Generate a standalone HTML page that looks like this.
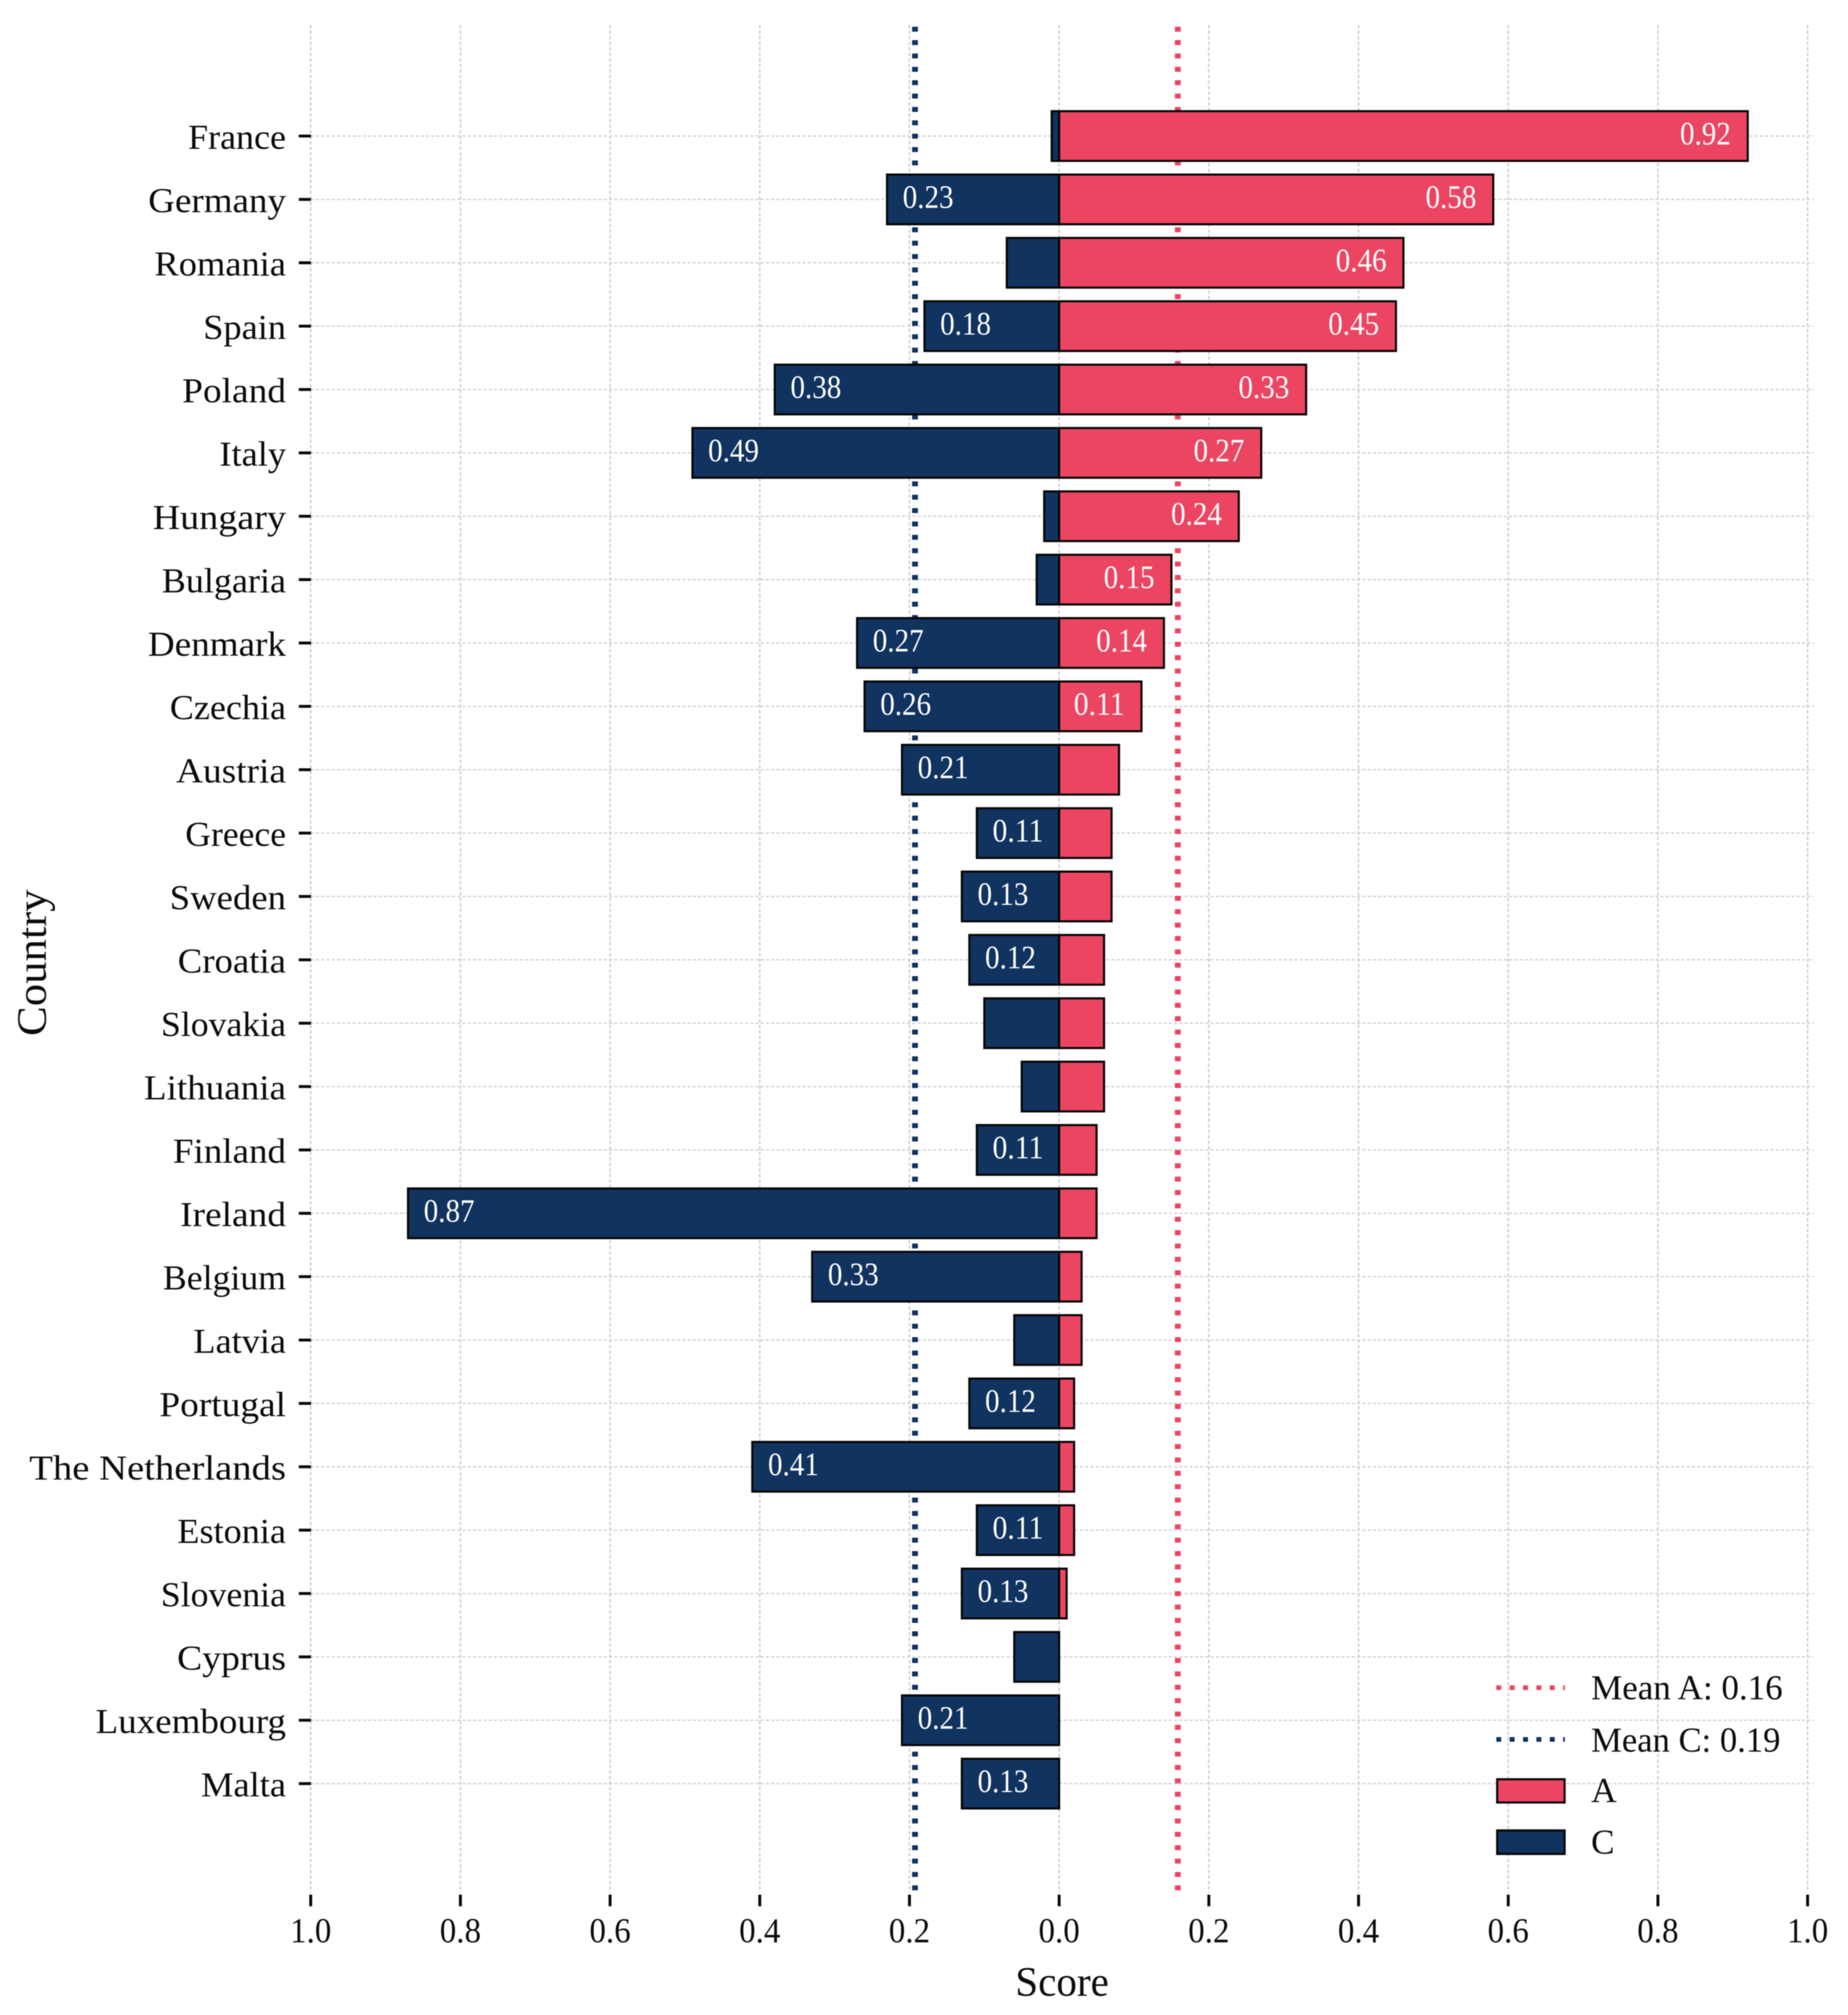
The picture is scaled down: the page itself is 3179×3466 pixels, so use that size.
<!DOCTYPE html>
<html lang="en">
<head>
<meta charset="utf-8">
<title>Country scores A and C</title>
<style>
html,body{margin:0;padding:0;background:#fff;}
#chart{display:block;width:3179px;height:3466px;filter:blur(0.7px);}
text{font-family:"Liberation Serif",serif;fill:#0c0c0c;}
</style>
</head>
<body>
<svg id="chart" xmlns="http://www.w3.org/2000/svg" width="3179" height="3466" viewBox="0 0 3179 3466"></svg>
<script>
const countries = ["France","Germany","Romania","Spain","Poland","Italy","Hungary","Bulgaria","Denmark","Czechia","Austria","Greece","Sweden","Croatia","Slovakia","Lithuania","Finland","Ireland","Belgium","Latvia","Portugal","The Netherlands","Estonia","Slovenia","Cyprus","Luxembourg","Malta"];
const seriesA = [0.92,0.58,0.46,0.45,0.33,0.27,0.24,0.15,0.14,0.11,0.08,0.07,0.07,0.06,0.06,0.06,0.05,0.05,0.03,0.03,0.02,0.02,0.02,0.01,0,0,0];
const seriesC = [0.01,0.23,0.07,0.18,0.38,0.49,0.02,0.03,0.27,0.26,0.21,0.11,0.13,0.12,0.10,0.05,0.11,0.87,0.33,0.06,0.12,0.41,0.11,0.13,0.06,0.21,0.13];
const xTickValues = [-1,-0.8,-0.6,-0.4,-0.2,0,0.2,0.4,0.6,0.8,1];
const xTickLabels = ["1.0","0.8","0.6","0.4","0.2","0.0","0.2","0.4","0.6","0.8","1.0"];
const labelThreshold = 0.1;

const COLOR_A = "#EB4562";
const COLOR_C = "#11335F";
const svg = document.getElementById("chart");
const NS = "http://www.w3.org/2000/svg";

/* axis functions */
function xScale(v){ return 1822 + v * 1287.5; }
function yScale(i){ return 234 + i * 109; }

/* Approximate the proportions of the reference's book typeface */
const ADV = {a:.5,b:.553,c:.444,d:.611,e:.479,f:.333,g:.556,h:.582,i:.291,j:.234,k:.556,l:.291,m:.883,n:.582,o:.546,p:.601,q:.56,r:.395,s:.424,t:.326,u:.603,v:.565,w:.834,x:.516,y:.556,z:.5,
A:.778,B:.611,C:.709,D:.774,E:.611,F:.556,G:.763,H:.832,I:.337,L:.611,M:.946,N:.831,P:.604,R:.668,S:.525,T:.613," ":.25,".":.25,":":.25};
function textWidth(str, size){
  let w = 0;
  for (const ch of str) w += (ch in ADV ? ADV[ch] : .5);
  return w * size;
}
function make(tag, attrs, parent){
  const el = document.createElementNS(NS, tag);
  for (const k in attrs) el.setAttribute(k, attrs[k]);
  (parent || svg).appendChild(el);
  return el;
}
function makeText(str, x, y, size, width, anchor, parent, fill){
  const el = make("text", {x:x, y:y, "font-size":size, "text-anchor":anchor, textLength:width.toFixed(1), lengthAdjust:"spacingAndGlyphs"}, parent);
  if (fill) el.setAttribute("style", "fill:" + fill);
  el.textContent = str;
  return el;
}
function group(name){
  const g = make("g", {});
  
  
  return g;
}

/* gridlines */
const gridG = group('gridlines');
xTickValues.forEach(function(v){
  const el = make("line", {x1:xScale(v), x2:xScale(v), y1:43, y2:3256, stroke:"#c8c8c8", "stroke-width":2.3, "stroke-dasharray":"6 3.5"}, gridG);
  
  
});
countries.forEach(function(c, i){
  const el = make("line", {x1:534.5, x2:3120, y1:yScale(i), y2:yScale(i), stroke:"#d0d0d0", "stroke-width":2.3, "stroke-dasharray":"5.5 3.5"}, gridG);
  
  
});

/* mean lines, behind the bars */
function mean(arr){ return arr.reduce(function(a,b){return a+b;},0) / arr.length; }
const meanA = mean(seriesA);
const meanC = mean(seriesC);
const meanALine = make("line", {x1:xScale(meanA), x2:xScale(meanA), y1:46, y2:3258, stroke:COLOR_A, "stroke-width":10, "stroke-dasharray":"8.5 14.5"});


const meanCLine = make("line", {x1:xScale(-meanC), x2:xScale(-meanC), y1:46, y2:3258, stroke:COLOR_C, "stroke-width":10, "stroke-dasharray":"8.5 14.5"});



/* bars */
const barsG = group('bars');
const BAR_H = 85.5;
countries.forEach(function(c, i){
  const x0 = xScale(0);
  const xc = xScale(-seriesC[i]);
  const barC = make("rect", {x:xc, y:yScale(i)-BAR_H/2, width:x0-xc, height:BAR_H, fill:COLOR_C, stroke:"#050505", "stroke-width":3.6}, barsG);
  
  
});
countries.forEach(function(c, i){
  const x0 = xScale(0);
  const xa = xScale(seriesA[i]);
  const barA = make("rect", {x:x0, y:yScale(i)-BAR_H/2, width:xa-x0, height:BAR_H, fill:COLOR_A, stroke:"#050505", "stroke-width":3.6}, barsG);
  
  
});

/* value labels */
const valuesG = group('value-labels');
countries.forEach(function(c, i){
  if (seriesA[i] > labelThreshold) {
    const s = seriesA[i].toFixed(2);
    const la = makeText(s, xScale(seriesA[i]) - 29, yScale(i) + 14.5, 56, textWidth(s, 50), "end", valuesG, "#ffffff");
    
    
  }
  if (seriesC[i] > labelThreshold) {
    const s = seriesC[i].toFixed(2);
    const lc = makeText(s, xScale(-seriesC[i]) + 27, yScale(i) + 14.5, 56, textWidth(s, 50), "start", valuesG, "#ffffff");
    
    
  }
});

/* y axis */
const yAxisG = group('y-axis');
countries.forEach(function(c, i){
  const tick = make("line", {x1:514, x2:535, y1:yScale(i), y2:yScale(i), stroke:"#0a0a0a", "stroke-width":5}, yAxisG);
  
  
  const size = c === "The Netherlands" ? 59.5 : 57;
  const label = makeText(c, 492, yScale(i) + 22, 60, textWidth(c, size), "end", yAxisG);
  
  
});

/* x axis */
const xAxisG = group('x-axis');
xTickValues.forEach(function(v, i){
  const tick = make("line", {x1:xScale(v), x2:xScale(v), y1:3259, y2:3279, stroke:"#0a0a0a", "stroke-width":5}, xAxisG);
  
  
  const label = makeText(xTickLabels[i], xScale(v), 3341, 60, textWidth(xTickLabels[i], 56.7), "middle", xAxisG);
  
  
});

/* axis titles */
const xTitle = makeText("Score", 1827, 3433, 72, 161, "middle");


const yTitle = makeText("Country", 0, 0, 72, 252, "middle");
yTitle.setAttribute("transform", "translate(79 1656) rotate(-90)");



/* legend */
const legendG = group('legend');
const entryA = make("g", {}, legendG);


make("line", {x1:2574, x2:2692, y1:2903, y2:2903, stroke:COLOR_A, "stroke-width":8, "stroke-dasharray":"8.5 14.5"}, entryA);
const legendMeanA = "Mean A: " + meanA.toFixed(2);
makeText(legendMeanA, 2737, 2923, 60, textWidth(legendMeanA, 57), "start", entryA);

const entryC = make("g", {}, legendG);


make("line", {x1:2574, x2:2692, y1:2992, y2:2992, stroke:COLOR_C, "stroke-width":8, "stroke-dasharray":"8.5 14.5"}, entryC);
const legendMeanC = "Mean C: " + meanC.toFixed(2);
makeText(legendMeanC, 2737, 3013, 60, textWidth(legendMeanC, 57), "start", entryC);

const entryBarA = make("g", {}, legendG);


make("rect", {x:2575.5, y:3060.5, width:116, height:40, fill:COLOR_A, stroke:"#050505", "stroke-width":3.6}, entryBarA);
makeText("A", 2737, 3100, 60, textWidth("A", 57), "start", entryBarA);

const entryBarC = make("g", {}, legendG);


make("rect", {x:2575.5, y:3148.5, width:116, height:40.5, fill:COLOR_C, stroke:"#050505", "stroke-width":3.6}, entryBarC);
makeText("C", 2737, 3188.5, 60, textWidth("C", 57), "start", entryBarC);
</script>
</body>
</html>
